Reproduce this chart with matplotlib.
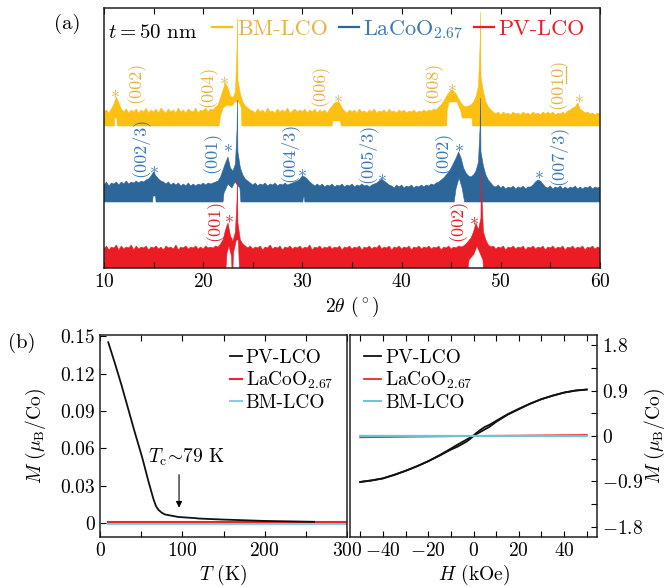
import numpy as np
import matplotlib
matplotlib.use("Agg")
import matplotlib.pyplot as plt
from matplotlib.lines import Line2D

plt.rcParams['font.family'] = 'serif'
plt.rcParams['font.serif'] = ['cmr10']
plt.rcParams['mathtext.fontset'] = 'cm'
plt.rcParams['axes.formatter.use_mathtext'] = True
plt.rcParams['axes.unicode_minus'] = True

# ---------------- (a) XRD data, intensity in arbitrary offset units ----------------
# measurement grid 10..60 deg, step 0.25
tth = np.linspace(10, 60, 201)

bm_top = [156, 158, 155, 159, 164, 171, 165, 159, 156, 159, 155, 158, 156, 159, 155, 158, 156, 160, 155, 158,
          156, 159, 155, 160, 157, 155, 159, 156, 158, 155, 160, 156, 158, 155, 159, 157, 156, 160, 155, 158,
          157, 160, 156, 159, 158, 161, 163, 170, 178, 185, 180, 172, 170, 176, 188, 174, 166, 162, 160, 158,
          157, 155, 159, 156, 158, 155, 160, 156, 157, 155, 159, 156, 158, 156, 160, 155, 157, 159, 156, 158,
          156, 159, 155, 158, 156, 159, 155, 158, 156, 158, 155, 159, 162, 165, 166, 165, 160, 157, 155, 158,
          156, 158, 155, 159, 156, 157, 155, 158, 156, 159, 155, 157, 156, 158, 155, 159, 156, 157, 155, 158,
          156, 158, 155, 157, 156, 158, 155, 157, 156, 158, 156, 158, 157, 159, 158, 161, 163, 167, 171, 175,
          178, 177, 174, 169, 165, 162, 161, 162, 163, 166, 171, 182, 192, 176, 166, 161, 158, 156, 154, 156,
          153, 156, 154, 155, 153, 156, 154, 155, 153, 156, 154, 155, 153, 156, 154, 155, 153, 156, 154, 156,
          154, 156, 153, 155, 154, 156, 154, 157, 158, 160, 161, 165, 159, 157, 155, 156, 154, 155, 153, 155,
          154]
bm_peak_x = [23.42, 23.45, 23.48, 47.92, 47.95, 47.98]
bm_peak_y = [222, 250, 222, 225, 256, 225]
bm_low_x = [10, 11.05, 11.1, 11.3, 11.35, 21.6, 21.75, 22.0, 22.4, 22.9, 23.2, 23.6, 23.85, 23.9,
            33.0, 33.05, 33.85, 33.9, 44.55, 44.6, 44.8, 45.6, 46.0, 46.1, 47.1, 47.15, 60]
bm_low_y = [142, 142, 150, 150, 142, 142, 152, 160, 163, 162, 166, 166, 160, 142,
            142, 147, 147, 142, 142, 158, 166, 166, 156, 150, 150, 142, 142]

lco_top = [83, 86, 82, 85, 84, 86, 83, 86, 84, 87, 84, 86, 85, 87, 85, 87, 86, 88, 89, 92,
           96, 92, 89, 87, 86, 84, 86, 83, 85, 83, 85, 82, 84, 82, 85, 82, 84, 82, 84, 83,
           85, 83, 85, 84, 85, 86, 87, 91, 98, 105, 111, 100, 97, 104, 116, 100, 93, 89, 87, 85,
           83, 85, 82, 84, 83, 85, 82, 84, 83, 85, 82, 84, 83, 85, 83, 84, 85, 86, 87, 89,
           92, 91, 89, 86, 84, 82, 84, 82, 84, 81, 83, 82, 84, 81, 83, 82, 84, 81, 83, 82,
           84, 81, 83, 82, 84, 82, 83, 81, 83, 84, 85, 87, 89, 87, 85, 83, 82, 80, 83, 81,
           83, 80, 82, 81, 83, 80, 82, 81, 83, 81, 83, 82, 84, 83, 85, 86, 88, 90, 93, 96,
           100, 105, 110, 116, 110, 100, 95, 92, 91, 93, 97, 106, 116, 102, 93, 88, 85, 82, 81, 83,
           80, 82, 79, 81, 80, 82, 79, 81, 80, 82, 79, 81, 81, 83, 86, 88, 87, 84, 81, 80,
           82, 79, 81, 80, 82, 79, 81, 79, 81, 80, 82, 79, 81, 79, 81, 80, 82, 79, 81, 80,
           81]
lco_peak_x = [23.42, 23.45, 23.48, 47.92, 47.95, 47.98]
lco_peak_y = [140, 168, 140, 142, 170, 142]
lco_low_x = [10, 14.9, 14.95, 15.2, 15.25, 22.0, 22.1, 22.5, 22.9, 23.2, 23.7, 23.8,
             30.05, 30.1, 30.2, 30.25, 45.3, 45.5, 45.8, 46.1, 46.35, 60]
lco_low_y = [66, 66, 72, 72, 66, 66, 75, 84, 80, 86, 80, 66,
             66, 71, 71, 66, 66, 80, 90, 80, 66, 66]

pv_top = [19, 22, 18, 21, 20, 23, 18, 22, 19, 21, 20, 23, 18, 22, 19, 21, 20, 22, 18, 21,
          20, 22, 19, 21, 18, 22, 20, 21, 19, 23, 18, 21, 20, 22, 19, 21, 20, 22, 19, 21,
          19, 22, 20, 21, 20, 22, 21, 24, 28, 38, 45, 32, 27, 36, 45, 28, 24, 22, 20, 22,
          19, 21, 20, 22, 18, 21, 20, 23, 19, 21, 20, 22, 18, 21, 20, 22, 19, 21, 20, 22,
          19, 21, 20, 23, 18, 21, 20, 22, 19, 21, 20, 22, 19, 21, 20, 22, 18, 21, 20, 22,
          19, 21, 20, 22, 18, 21, 20, 22, 19, 21, 20, 23, 19, 21, 20, 22, 18, 21, 20, 22,
          19, 21, 20, 22, 18, 21, 20, 22, 19, 21, 20, 22, 19, 21, 20, 22, 18, 21, 20, 22,
          19, 21, 20, 22, 21, 22, 24, 27, 30, 36, 45, 38, 50, 36, 28, 23, 21, 22, 19, 21,
          20, 22, 18, 21, 20, 22, 19, 21, 20, 22, 18, 21, 20, 22, 19, 21, 20, 22, 18, 21,
          20, 22, 19, 21, 20, 22, 18, 21, 20, 22, 19, 21, 20, 22, 18, 21, 20, 22, 19, 21,
          20]
pv_peak_x = [23.42, 23.45, 23.48, 48.02, 48.05, 48.08]
pv_peak_y = [70, 90, 70, 75, 96, 75]
pv_low_x = [10, 22.3, 22.4, 22.6, 22.85, 22.9, 23.0, 23.05, 23.35, 23.55, 23.65,
            46.7, 46.8, 47.3, 47.6, 47.9, 48.2, 48.25, 60]
pv_low_y = [0, 0, 15, 22, 12, 0, 0, 15, 28, 28, 0,
            0, 8, 14, 22, 15, 8, 0, 0]

# peak index labels: (text, 2theta, height); underline marks a two-digit index
bm_labels = [('(002)', 13.2, 186), ('(004)', 20.5, 182), ('(006)', 31.8, 183),
             ('(008)', 43.2, 186), ('(0010)', 55.8, 184)]
bm_stars = [(11.1, 175), (22.1, 188), (33.6, 170), (45.1, 181), (57.9, 170)]
lco_labels = [('(002/3)', 13.6, 121), ('(001)', 20.9, 116), ('(004/3)', 28.6, 116),
              ('(005/3)', 36.5, 115), ('(002)', 44.2, 116), ('(007/3)', 55.7, 113)]
lco_stars = [(15.0, 99), (22.5, 121), (30.0, 96), (38.0, 91), (45.8, 121), (53.8, 94)]
pv_labels = [('(001)', 21.2, 48), ('(002)', 45.7, 48)]
pv_stars = [(22.6, 50), (47.3, 48)]

# ---------------- (b) magnetisation data ----------------
T_pv = [10, 18, 26, 34, 42, 51, 59, 65, 68, 71, 75, 79, 95, 115, 121, 150, 200, 250, 260]
M_pv = [0.1452, 0.1285, 0.111, 0.0922, 0.0734, 0.0532, 0.033, 0.0190, 0.0135, 0.0105, 0.0082, 0.0068,
        0.0048, 0.0039, 0.0035, 0.0027, 0.0016, 0.0010, 0.0009]
T_lco = [10, 300]
M_lco = [0.0008, 0.0008]
T_bm = [10, 300]
M_bm = [-0.0006, -0.0006]

H = [-50, -45, -40, -35, -30, -25, -20, -15, -10, -7, -5, -3, -1, 0,
     1, 3, 5, 7, 10, 15, 20, 25, 30, 35, 40, 45, 50]
M_asc = [-0.91, -0.88, -0.84, -0.77, -0.69, -0.60, -0.50, -0.39, -0.27, -0.21, -0.16, -0.11, -0.04, 0.0,
         0.03, 0.08, 0.13, 0.18, 0.28, 0.42, 0.53, 0.64, 0.73, 0.80, 0.86, 0.90, 0.92]
M_desc = [-0.91, -0.88, -0.84, -0.77, -0.69, -0.60, -0.50, -0.38, -0.25, -0.17, -0.12, -0.07, -0.02, 0.01,
          0.05, 0.12, 0.18, 0.22, 0.30, 0.43, 0.54, 0.64, 0.73, 0.80, 0.86, 0.90, 0.92]
H_lco = [-50, 0, 50]
Mh_lco = [-0.025, 0.0, 0.02]
H_bm = [-50, 50]
Mh_bm = [0.003, 0.0]

c_bm, c_lco, c_pv = '#FBC012', '#2D6699', '#EC1C24'
t_bm, t_lco, t_pv = '#E6B445', '#3A7AB4', '#E8202A'

fig = plt.figure(figsize=(6.7, 5.87), dpi=100)

# ---------------- panel (a) ----------------
ax = fig.add_axes([104/670, 319/587, 496/670, 260/587])


def band(top, px, py, lx, ly, color):
    x = np.concatenate([tth, px])
    y = np.concatenate([np.array(top, float), py])
    o = np.argsort(x, kind='stable')
    xs = np.r_[x[o], np.array(lx)[::-1]]
    ys = np.r_[y[o], np.array(ly)[::-1]]
    ax.fill(xs, ys, color=color, lw=0.4, ec=color)


band(bm_top, bm_peak_x, bm_peak_y, bm_low_x, bm_low_y, c_bm)
band(lco_top, lco_peak_x, lco_peak_y, lco_low_x, lco_low_y, c_lco)
band(pv_top, pv_peak_x, pv_peak_y, pv_low_x, pv_low_y, c_pv)

for labels, stars, col in [(bm_labels, bm_stars, t_bm), (lco_labels, lco_stars, t_lco),
                           (pv_labels, pv_stars, t_pv)]:
    for s, x, y in labels:
        ax.text(x, y, s, rotation=90, ha='center', va='center', color=col, fontsize=13)
        if s == '(0010)':
            # underline below the two-digit index "10"
            ax.plot([x + 0.75, x + 0.75], [y + 1, y + 17], color=col, lw=0.9)
    for x, y in stars:
        ax.text(x, y, r'$*$', ha='center', va='center', color=col, fontsize=13)

ax.set_xlim(10, 60)
ax.set_ylim(0, 260)
ax.set_yticks([])
ax.set_xticks([10, 20, 30, 40, 50, 60])
ax.set_xticks([15, 25, 35, 45, 55], minor=True)
ax.tick_params(axis='x', which='both', direction='in', top=True, labelsize=14, length=4, width=0.8)
ax.set_xlabel(r'$2\theta$ ($^\circ$)', fontsize=14, labelpad=3)

ax.text(0.008, 0.905, r'$t=50$ nm', transform=ax.transAxes, ha='left', va='center', fontsize=15)
hs = [Line2D([], [], color=c, lw=1.6) for c in (c_bm, c_lco, c_pv)]
leg = ax.legend(hs, ['BM-LCO', r'LaCoO$_{2.67}$', 'PV-LCO'], loc='upper right', ncol=3,
                frameon=False, fontsize=16, handlelength=0.9, handletextpad=0.2,
                columnspacing=0.5, borderaxespad=0.35, borderpad=0.1,
                bbox_to_anchor=(0.99, 1.0))
for t, c in zip(leg.get_texts(), (t_bm, t_lco, t_pv)):
    t.set_color(c)

# ---------------- panel (b) left ----------------
bl = fig.add_axes([100/670, 50/587, 247/670, 202/587])
bl.plot(T_bm, M_bm, color='#86CFDC', lw=1.5, label='BM-LCO')
bl.plot(T_lco, M_lco, color='#F0242B', lw=1.5, label=r'LaCoO$_{2.67}$')
bl.plot(T_pv, M_pv, color='#111111', lw=1.3, label='PV-LCO')
bl.set_xlim(0, 300)
bl.set_ylim(-0.0113, 0.151)
bl.set_xticks([0, 100, 200, 300])
bl.set_xticks([50, 150, 250], minor=True)
bl.set_yticks([0, 0.03, 0.06, 0.09, 0.12, 0.15])
bl.set_yticklabels(['0', '0.03', '0.06', '0.09', '0.12', '0.15'])
bl.tick_params(which='both', direction='in', top=True, labelsize=14, length=4, width=0.8)
bl.set_xlabel(r'$T$ (K)', fontsize=14, labelpad=2)
bl.set_ylabel(r'$M\ (\mu_\mathrm{B}/\mathrm{Co})$', fontsize=14)
bl.yaxis.set_label_coords(-0.21, 0.5)
bl.annotate('', xy=(96, 0.010), xytext=(96, 0.041),
            arrowprops=dict(arrowstyle='-|>', color='black', lw=0.8, mutation_scale=9))
bl.text(58, 0.053, r'$T_\mathrm{c}\!\sim\!$79 K', fontsize=14, va='center', ha='left')
h, l = bl.get_legend_handles_labels()
bl.legend(h[::-1], l[::-1], loc='upper right', frameon=False, fontsize=14, handlelength=0.6,
          handletextpad=0.2, labelspacing=0.15, borderaxespad=0.3)

# ---------------- panel (b) right ----------------
br = fig.add_axes([350/670, 50/587, 247/670, 202/587])
br.plot(H, M_asc, color='#111111', lw=1.3, label='PV-LCO')
br.plot(H[::-1], M_desc[::-1], color='#111111', lw=1.3)
br.plot(H_lco, Mh_lco, color='#F0242B', lw=1.3, label=r'LaCoO$_{2.67}$')
br.plot(H_bm, Mh_bm, color='#6CC6D6', lw=1.5, label='BM-LCO')
br.set_xlim(-54.5, 54.5)
br.set_ylim(-2.0, 2.0)
br.set_xticks([-40, -20, 0, 20, 40])
br.set_xticklabels([r'$-40$', r'$-20$', r'$0$', r'$20$', r'$40$'])
br.set_xticks([-50, -30, -10, 10, 30, 50], minor=True)
br.set_yticks([-1.8, -0.9, 0, 0.9, 1.8])
br.set_yticklabels([r'$-1.8$', r'$-0.9$', r'$0$', r'$0.9$', r'$1.8$'])
br.set_yticks([-1.35, -0.45, 0.45, 1.35], minor=True)
br.yaxis.tick_right()
br.yaxis.set_label_position('right')
br.tick_params(which='both', direction='in', top=True, labelsize=14, length=4, width=0.8)
br.set_xlabel(r'$H$ (kOe)', fontsize=14, labelpad=2)
br.set_ylabel(r'$M\ (\mu_\mathrm{B}/\mathrm{Co})$', fontsize=14, labelpad=0)
br.legend(loc='upper left', frameon=False, fontsize=14, handlelength=0.9,
          handletextpad=0.2, labelspacing=0.15, borderaxespad=0.3)

for a in (ax, bl, br):
    for sp in a.spines.values():
        sp.set_linewidth(1.1)
        sp.set_color('#222222')

fig.text(67/670, 1 - 24/587, '(a)', fontsize=15, ha='center', va='center')
fig.text(22/670, 1 - 343/587, '(b)', fontsize=15, ha='center', va='center')

fig.savefig('out.png', dpi=100)
